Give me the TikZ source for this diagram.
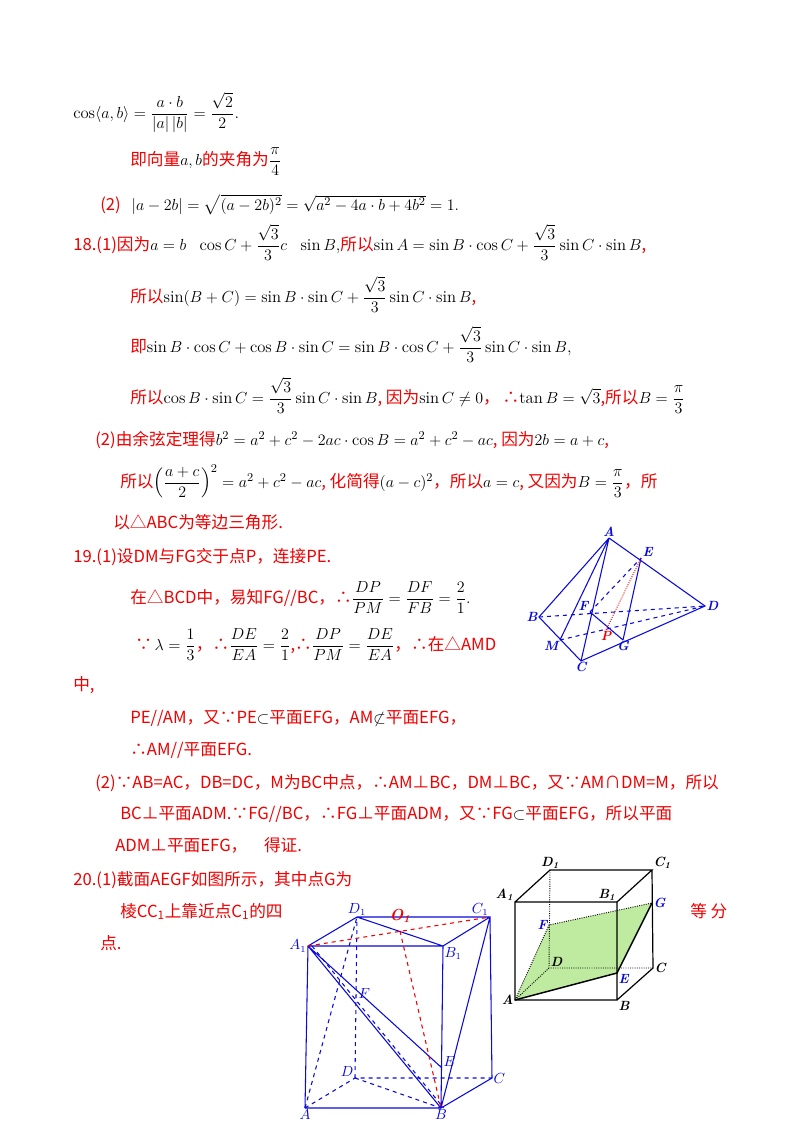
\documentclass[tikz,border=0pt]{standalone}
\usepackage{amsmath,amssymb}
\usepackage{fontspec}
\newfontfamily\cjk{Noto Sans CJK SC}
\definecolor{rd}{RGB}{240,0,0}
\definecolor{bl}{RGB}{10,10,220}
\definecolor{grn}{RGB}{190,235,160}
\begin{document}
\begin{tikzpicture}[x=0.75pt,y=-0.75pt,
  ln/.style={anchor=base west,inner sep=0,font=\fontsize{12.5}{15}\selectfont},
  lab/.style={inner sep=1pt,font=\fontsize{10}{12}\selectfont\itshape\bfseries},
  tl/.style={bl,line width=0.8pt},
  bk/.style={black,line width=0.9pt}]
\useasboundingbox[fill=white] (0,0) rectangle (800,1132);
\newcommand{\R}[1]{\textcolor{rd}{\cjk #1}}
% text
\node[ln] (t1) at (73,118) {cos$\langle a,b\rangle=\dfrac{a\cdot b}{|a|\,|b|}=\dfrac{\sqrt2}{2}$.};
\node[ln] (t2) at (130,165) {\R{即向量}$a,b$\R{的夹角为}$\dfrac{\pi}{4}$};
\node[ln] (t3) at (100,210) {\R{(2)}\ \ $|a-2b|=\sqrt{(a-2b)^2}=\sqrt{a^2-4a\cdot b+4b^2}=1.$};
\node[ln] (t4) at (73,250) {\R{18.(1)因为}$a=b\ \ \cos C+\dfrac{\sqrt3}{3}c\ \ \sin B$,\R{所以}$\sin A=\sin B\cdot\cos C+\dfrac{\sqrt3}{3}\sin C\cdot\sin B$\R{,}};
\node[ln] (t5) at (130,302) {\R{所以}$\sin(B+C)=\sin B\cdot\sin C+\dfrac{\sqrt3}{3}\sin C\cdot\sin B$\R{,}};
\node[ln] (t6) at (130,352) {\R{即}$\sin B\cdot\cos C+\cos B\cdot\sin C=\sin B\cdot\cos C+\dfrac{\sqrt3}{3}\sin C\cdot\sin B$,};
\node[ln] (t7) at (130,403) {\R{所以}$\cos B\cdot\sin C=\dfrac{\sqrt3}{3}\sin C\cdot\sin B$\R{, 因为}$\sin C\neq0$\R{，\,∴}$\tan B=\sqrt3$\R{,所以}$B=\dfrac{\pi}{3}$};
\node[ln] (t8) at (95,445) {\R{(2)由余弦定理得}$b^2=a^2+c^2-2ac\cdot\cos B=a^2+c^2-ac$\R{, 因为}$2b=a+c$\R{,}};
\node[ln] (t9) at (120,487) {\R{所以}$\Bigl(\dfrac{a+c}{2}\Bigr)^2=a^2+c^2-ac$\R{, 化简得}$(a-c)^2$\R{，所以}$a=c$\R{, 又因为}$B=\dfrac{\pi}{3}$\R{，所}};
\node[ln] (t10) at (113,528) {\R{以△ABC为等边三角形.}};
\node[ln] (t11) at (73,562) {\R{19.(1)设DM与FG交于点P，连接PE.}};
\node[ln] (t12) at (130,603) {\R{在△BCD中，易知FG//BC，∴}$\dfrac{DP}{PM}=\dfrac{DF}{FB}=\dfrac{2}{1}$.};
\node[ln] (t13) at (135,650) {\R{∵}\,$\lambda=\dfrac13$\R{，∴}$\dfrac{DE}{EA}=\dfrac21$\R{,∴}$\dfrac{DP}{PM}=\dfrac{DE}{EA}$\R{，∴在△AMD}};
\node[ln] (t14) at (73,690) {\R{中,}};
\node[ln] (t15) at (130,723) {\R{PE//AM，又∵PE}$\subset$\R{平面EFG，AM}$\not\subset$\R{平面EFG，}};
\node[ln] (t16) at (130,755) {\R{∴AM//平面EFG.}};
\node[ln] (t17) at (95,788) {\R{(2)∵AB=AC，DB=DC，M为BC中点，∴AM⊥BC，DM⊥BC，又∵AM∩DM=M，所以}};
\node[ln] (t18) at (120,819) {\R{BC⊥平面ADM.∵FG//BC，∴FG⊥平面ADM，又∵FG}$\subset$\R{平面EFG，所以平面}};
\node[ln] (t19) at (115,851) {\R{ADM⊥平面EFG，\quad 得证.}};
\node[ln] (t20) at (73,885) {\R{20.(1)截面AEGF如图所示，其中点G为}};
\node[ln] (t21) at (120,917) {\R{棱CC\textsubscript{1}上靠近点C\textsubscript{1}的四}};
\node[ln] (t21b) at (690,917) {\R{等 分}};
\node[ln] (t22) at (100,949) {\R{点.}};
% tetrahedron
\coordinate (A) at (609,538); \coordinate (E) at (641,558); \coordinate (B) at (539,617);
\coordinate (D) at (705,606); \coordinate (F) at (590,612); \coordinate (P) at (606,630);
\coordinate (M) at (560,640); \coordinate (G) at (623,640); \coordinate (C) at (581,661);
\draw[tl] (A)--(B)--(C)--(D)--(A) (A)--(M) (A)--(C) (E)--(G) (F)--(G);
\draw[tl,dashed] (B)--(D) (M)--(D) (F)--(E);
\draw[rd,densely dotted,line width=0.7pt] (P)--(E);
\node[lab,bl,above] at (A) {A}; \node[lab,bl,above right] at (E) {E};
\node[lab,bl,left] at (B) {B}; \node[lab,bl,right] at (D) {D};
\node[lab,bl,above left] at (F) {F}; \node[lab,rd,below] at (P) {P};
\node[lab,bl,below left] at (M) {M}; \node[lab,bl,below] at (G) {G};
\node[lab,bl,below] at (C) {C};
% left cube
\begin{scope}[lab/.style={inner sep=1pt,font=\fontsize{10.5}{12}\selectfont\itshape,bl}]
\coordinate (cA) at (305,1108); \coordinate (cB) at (441,1108); \coordinate (cC) at (492,1078);
\coordinate (cD) at (355,1078); \coordinate (cA1) at (308,946); \coordinate (cB1) at (443,946);
\coordinate (cC1) at (490,917); \coordinate (cD1) at (357,917); \coordinate (cE) at (442,1068);
\coordinate (cF) at (357,1000); \coordinate (cO) at (400,931);
\draw[tl] (cA)--(cB)--(cC)--(cC1)--(cD1)--(cA1)--(cA) (cA1)--(cB1)--(cC1) (cB1)--(cB) (cD1)--(cB1) (cC1)--(cB) (cA1)--(cE) (cA1)--(cB);
\draw[tl,dashed] (cA)--(cD)--(cC) (cD)--(cD1) (cA)--(cD1) (cD)--(cB) ([xshift=3pt]cA1)--([xshift=2pt]cB);
\draw[rd,dashed,line width=0.8pt] (cA1)--(cC1) (cO)--(cB);
\node[lab,above] at (cD1) {$D_1$}; \node[lab,rd,above,font=\fontsize{12}{12}\selectfont\bfseries\itshape] at (400,924) {O\textsubscript{1}};
\node[lab,above left] at (cC1) {$C_1$}; \node[lab,left] at (cA1) {$A_1$};
\node[lab,below right] at (cB1) {$B_1$}; \node[lab,above right] at (cF) {$F$};
\node[lab,above right] at (cE) {$E$}; \node[lab,above left] at (cD) {$D$};
\node[lab,right] at (cC) {$C$}; \node[lab,below] at (cA) {$A$}; \node[lab,below] at (cB) {$B$};
\end{scope}
% right cube
\coordinate (rA) at (515,1000); \coordinate (rB) at (617,1000); \coordinate (rE) at (617,973);
\coordinate (rC) at (653,968); \coordinate (rD) at (549,968); \coordinate (rA1) at (515,902);
\coordinate (rB1) at (617,902); \coordinate (rC1) at (652,870); \coordinate (rD1) at (550,870);
\coordinate (rG) at (652,903); \coordinate (rF) at (549,925);
\fill[grn] (rA)--(rE)--(rG)--(rF)--cycle;
\draw[bk] (rA)--(rB)--(rB1)--(rA1)--cycle (rA1)--(rD1)--(rC1)--(rB1) (rB)--(rC)--(rC1);
\draw[black,densely dotted,line width=0.7pt] (rD1)--(rD)--(rC) (rD)--(rA) (rA)--(rF)--(rG);
\draw[black,line width=1.1pt] (rA)--(rE)--(rG);
\node[lab,above] at (rD1) {D\textsubscript{1}}; \node[lab,above right] at (rC1) {C\textsubscript{1}};
\node[lab,above left] at (rA1) {A\textsubscript{1}}; \node[lab,above left] at (rB1) {B\textsubscript{1}};
\node[lab,bl,right] at (rG) {G}; \node[lab,bl,left] at (rF) {F};
\node[lab,above right] at (rD) {D}; \node[lab,right] at (rC) {C};
\node[lab,bl,below right] at (rE) {E}; \node[lab,left] at (rA) {A}; \node[lab,below right] at (rB) {B};
\end{tikzpicture}
\end{document}
